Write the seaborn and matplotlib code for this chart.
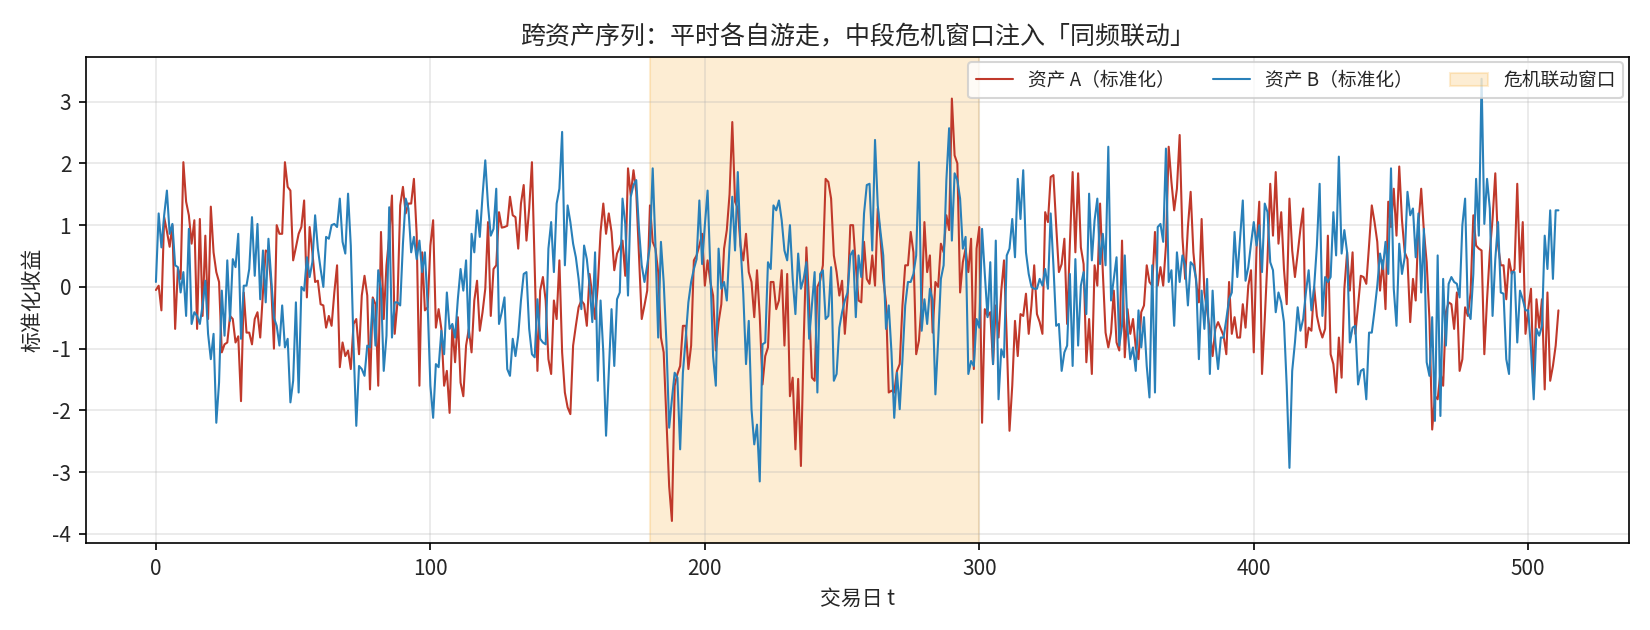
import numpy as np
import pandas as pd
import matplotlib
matplotlib.use("Agg")
import matplotlib.pyplot as plt
import seaborn as sns

# 数据：两条标准化收益序列（t = 0..511）
asset_a = [
    # t 0-41
    -0.05, 0.02, -0.38, 1.13, 0.9, 0.65, 1.0, -0.68, 0.3, 0.13, 2.02, 1.38, 1.16, 0.7, 1.08, -0.68,
    1.1, -0.47, 0.83, -0.52, 1.3, 0.56, 0.24, 0.08, -1.06, -0.93, -0.9, -0.47, -0.52, -0.9, -0.8,
    -1.85, -0.09, -0.74, -0.74, -0.93, -0.52, -0.41, -0.82, -0.09, 0.59, 0.56,
    # t 42-83
    0.02, -1.0, 1.0, 0.86, 0.86, 2.02, 1.62, 1.56, 0.43, 0.64, 0.86, 0.97, 1.4, -0.17, 0.97, 0.56,
    0.08, 0.1, -0.28, -0.3, -0.66, -0.47, -0.63, -0.09, 0.35, -1.3, -0.9, -1.12, -1.03, -1.33, -0.6,
    -0.52, -1.09, -0.14, 0.18, -0.14, -1.66, -0.17, -0.28, -1.6, 0.89, -0.52,
    # t 84-125
    0.35, 0.81, 1.48, -0.76, -0.25, 1.32, 1.62, 1.19, 1.35, 1.35, 1.75, 0.86, -1.6, 0.56, -0.38,
    -0.33, 0.67, 1.08, -0.66, -0.36, -0.68, -1.6, -1.36, -2.04, -0.63, -1.22, -0.49, -1.55, -1.77,
    -0.95, -0.68, -1.06, -0.22, 0.1, -0.71, -0.41, -0.03, 1.05, -0.47, 0.29, 0.35, 1.21,
    # t 126-167
    0.96, 0.97, 0.99, 1.46, 1.16, 1.13, 0.62, 1.35, 1.65, 0.75, 1.27, 2.02, 0.35, -1.36, -0.06,
    0.16, -0.22, -1.17, -1.41, -0.22, -0.52, 0.43, -1.06, -1.71, -1.95, -2.06, -0.95, -0.63, -0.33,
    -0.22, -0.28, -0.63, 0.21, -0.14, -0.52, 0.02, 0.89, 1.35, 0.86, 1.19, 0.89, 0.27,
    # t 168-209
    0.54, 0.64, 0.75, 0.18, 1.92, 1.48, 1.89, 1.54, 0.51, -0.52, -0.3, -0.06, 1.32, 0.73, 0.62,
    0.24, -0.82, -1.06, -2.14, -3.23, -3.79, -1.6, -1.41, -1.28, -0.63, -0.63, -1.33, -0.95, 0.43,
    0.51, 0.67, 0.86, 0.02, 0.43, 0.08, -0.14, -1.03, -0.57, -0.28, 0.62, 0.92, 1.5,
    # t 210-251
    2.67, 1.38, 1.27, 0.67, 0.43, 0.86, 0.24, 0.08, -0.49, 0.27, -0.47, -1.58, -1.12, -0.98, 0.08,
    0.08, -0.36, -0.22, 0.27, -0.95, 0.21, -1.77, -1.47, -2.63, -1.49, -2.9, -0.9, 0.64, -0.28,
    -1.47, -1.52, 0.0, 0.1, 0.35, 1.75, 1.7, 1.43, 0.51, 0.24, -0.14, 0.1, -0.76,
    # t 252-293
    -0.17, 1.0, 1.0, 0.35, -0.22, -0.25, 0.73, 0.13, 0.05, 0.51, 0.02, 1.27, 0.78, 0.13, -0.25,
    -1.71, -1.68, -1.71, -1.36, -1.25, -0.3, 0.35, 0.35, 0.89, 0.56, -1.09, -0.87, -0.25, 1.05,
    0.24, 0.51, -0.74, 0.08, 0.0, 0.7, 0.56, 1.16, 0.92, 3.05, 2.13, 2.0, -0.09,
    # t 294-335
    0.4, 0.62, 0.24, 0.78, -1.33, 0.62, 0.97, -2.2, -0.36, -0.47, -0.41, -1.25, -0.3, -0.82, -0.06,
    0.43, -0.84, -2.33, -1.6, -0.55, -1.12, -0.44, -0.47, -0.11, -0.76, -0.3, 0.35, -0.44, -0.57,
    -0.76, 1.21, 1.05, 1.78, 1.81, 1.0, 0.24, 0.37, 0.78, -0.6, 0.7, 1.86, 0.56,
    # t 336-377
    1.84, 0.64, 0.37, -1.22, -0.52, -1.41, 0.35, 0.02, 1.35, 0.24, -0.74, -0.98, -0.74, -0.06, -0.9,
    -1.03, 0.75, -1.14, -0.36, -0.76, -0.52, -0.98, -1.17, -0.41, -0.3, 0.35, 0.08, 0.02, 0.89,
    0.02, 0.32, 0.02, 0.67, 2.27, 1.7, 1.24, 1.59, 2.46, 0.81, 0.13, 0.97, 1.54,
    # t 378-419
    0.56, 0.08, -0.25, 1.1, -0.09, -0.38, -0.71, -1.12, -0.68, -0.57, -0.68, -0.79, -1.09, 0.08,
    -0.76, -0.49, -0.82, -0.82, -0.28, -0.66, 0.02, 0.27, -1.06, 0.62, 1.38, -1.41, -0.52, 0.45,
    1.67, 0.83, 1.86, 0.7, 1.21, 0.29, -0.28, 1.43, 0.59, 0.16, 0.54, 0.94, 1.27, -0.98,
    # t 420-461
    -0.66, -0.71, 0.0, -0.47, -0.68, -0.82, -0.68, 0.83, -1.09, -1.25, -1.71, -0.82, -1.47, -0.03,
    0.56, -0.06, 0.56, -0.76, -0.3, 0.18, 0.16, 0.05, 0.67, 1.32, 1.05, 0.73, -0.06, 0.43, -0.36,
    1.38, 0.97, 1.59, 0.83, 1.95, 1.08, 0.56, 0.45, -0.57, 0.13, -0.22, 1.02, 1.59,
    # t 462-511
    0.89, 0.4, -0.52, -2.31, -1.77, -1.82, -1.39, -1.6, -0.41, -0.25, -0.28, -0.68, -0.09, -1.36,
    -1.17, -0.33, -0.47, -0.09, 1.16, 0.67, 0.62, 0.59, -1.09, -0.2, 0.56, 1.1, 1.84, 0.67, 0.35,
    0.35, -0.2, 0.45, 0.21, 0.29, 1.67, 0.24, 1.05, -0.76, -0.36, -0.03, -1.6, -0.2, -0.66, -0.2,
    -1.66, -0.09, -1.52, -1.28, -0.95, -0.38,
]

asset_b = [
    # t 0-41
    0.08, 1.19, 0.64, 1.16, 1.56, 0.86, 1.02, 0.35, 0.32, -0.09, 0.24, -0.47, 0.94, -0.6, -0.41,
    -0.47, -0.6, -0.3, 0.1, -0.76, -1.17, -0.76, -2.2, -1.55, -0.06, -0.79, 0.43, -0.55, 0.45, 0.32,
    0.86, -0.84, 0.02, 0.02, 0.29, 1.13, 0.18, 1.02, -0.2, 0.59, -0.25, 0.78,
    # t 42-83
    0.13, -0.5, -0.63, -0.95, -0.3, -0.98, -0.84, -1.87, -1.52, -0.25, -1.71, 0.0, -0.06, 0.48, 0.16,
    0.4, 1.16, 0.62, 0.29, 0.0, 0.81, 0.78, 1.0, 1.02, 0.97, 1.43, 0.73, 0.54, 1.51, 0.67, -0.95,
    -2.25, -1.28, -1.33, -1.44, -0.95, -0.98, -0.2, -0.95, 0.27, -0.03, -1.36,
    # t 84-125
    -0.79, 1.29, -0.82, -0.25, -0.25, -0.3, 0.7, 1.43, 1.27, 0.56, 0.81, 0.45, 0.75, 0.24, 0.56,
    -0.3, -1.6, -2.12, -1.25, -1.3, -0.71, -1.09, -0.09, -0.68, -0.6, -0.82, -0.2, 0.29, -0.06,
    0.43, -0.82, 0.86, 0.56, 1.24, 0.81, 1.48, 2.05, 1.32, 0.83, 0.94, 1.59, -0.6,
    # t 126-167
    -0.41, -0.17, -1.33, -1.44, -0.84, -1.12, -0.79, -0.22, 0.21, 0.24, -0.68, -1.09, -1.14, -0.2,
    -0.84, -0.9, -0.93, 0.62, 1.05, 0.24, 1.35, 1.59, 2.51, 0.35, 1.32, 1.05, 0.7, 0.48, 0.13,
    -0.36, 0.67, 0.45, 0.02, -0.57, 0.56, -1.52, -0.22, -1.06, -2.41, -1.39, -0.36, -1.28,
    # t 168-209
    -0.2, -0.09, 1.43, 1.02, -0.14, 1.46, 1.65, 1.73, 0.94, 0.35, 0.08, 0.35, 0.67, 1.92, 0.67,
    -0.82, 0.73, 0.08, -0.9, -2.28, -1.82, -1.39, -1.47, -2.63, -1.39, -0.84, -0.25, 0.08, 0.29,
    0.45, 1.4, 0.37, 1.0, 1.56, 0.29, -1.12, -1.6, 0.62, -0.03, 0.08, -0.22, 0.67,
    # t 210-251
    1.46, 0.59, 1.86, 0.67, -0.11, -1.25, -0.55, -1.98, -2.55, -2.23, -3.15, -0.93, -0.9, 0.4, 0.29,
    1.32, 1.24, 1.4, 1.08, 0.59, 0.43, 1.0, 0.13, -0.44, 0.54, -0.03, 0.13, 0.4, -0.84, -0.3, 0.24,
    -1.71, 0.21, 0.27, -0.52, -0.47, 0.32, -1.52, -1.41, -0.66, -0.41, -0.22,
    # t 252-293
    -0.09, 0.51, 0.59, -0.49, 0.51, 0.16, 1.19, 1.65, 1.67, 0.59, 2.38, 1.32, 0.89, 0.51, -0.68,
    -0.3, -1.06, -2.12, -1.39, -1.98, -1.17, -0.3, 0.08, 0.08, 0.21, 0.51, 2.02, -0.71, -0.2, -0.6,
    -0.03, -0.22, -1.74, -0.87, 0.13, 0.35, 1.73, 2.57, 0.75, 1.84, 1.73, 1.43,
    # t 294-335
    0.62, 0.81, -1.41, -1.2, -1.28, -0.52, -0.66, 0.94, 0.21, -0.49, 0.4, -1.25, 0.75, -1.82, -1.01,
    -1.14, 0.51, 0.62, 1.1, 0.48, 1.75, 1.1, 1.89, 0.56, 0.21, 0.0, -0.03, -0.03, 0.13, 0.02, 0.29,
    -0.03, 1.19, 0.35, -0.63, -0.6, -1.36, -1.06, -0.95, 0.21, -1.28, 0.45,
    # t 336-377
    -0.95, 0.02, 0.24, -0.44, 1.51, 0.43, 1.08, 1.43, 0.37, 0.86, 0.35, 2.27, -0.22, 0.13, 0.48,
    -0.95, -0.63, 0.51, -0.68, -1.17, -0.98, -1.36, -0.38, -0.98, -0.49, -1.28, -1.79, 0.35, -1.71,
    0.97, 1.02, 0.73, 2.24, 0.08, 0.27, -0.63, 0.56, 0.08, 0.51, 0.35, -0.3, 0.4,
    # t 378-419
    0.35, 0.13, -1.17, -0.06, -0.68, 0.13, -1.41, -0.06, -0.9, -1.33, -0.82, -0.82, -0.52, -0.2,
    -0.09, 0.89, 0.16, 0.78, 1.4, 0.1, 0.32, 0.7, 1.05, 0.67, 1.0, 0.24, 1.35, 1.21, 0.4, 0.27,
    -0.41, -0.09, -0.25, -0.57, -1.6, -2.93, -1.36, -0.9, -0.33, -0.71, -0.52, -0.09,
    # t 420-461
    0.27, -0.38, 0.0, 0.67, 1.67, -0.47, 0.16, 0.08, 0.16, 1.21, 0.51, 2.11, 0.54, 0.92, 0.56, -0.9,
    -0.66, -0.63, -1.58, -1.36, -1.33, -1.82, -0.74, -0.74, -0.38, 0.02, 0.54, 0.29, 0.73, 0.21,
    1.92, -0.03, -0.63, 0.7, 0.21, 0.48, 1.54, 1.16, 1.27, 0.48, 1.19, -0.09,
    # t 462-511
    0.94, -1.22, -1.44, -0.49, -2.17, 0.51, -2.09, 0.13, -0.95, 0.05, 0.16, 0.08, 0.05, -0.17, 1.0,
    1.43, -0.41, -0.52, 0.21, 1.75, 0.83, 3.37, 1.02, 1.75, 1.27, -0.47, 0.45, 1.05, -0.09, -0.11,
    -1.17, -1.41, 0.24, 0.24, -0.9, -0.06, -0.2, -0.38, -0.38, -1.01, -1.82, -0.68, -0.79, -0.63,
    0.83, 0.29, 1.24, 0.13, 1.24, 1.24,
]

crisis_window = (180, 300)
labels = ["资产 A（标准化）", "资产 B（标准化）", "危机联动窗口"]
colors = {"A": "#c0392b", "B": "#2980b9"}

df = pd.DataFrame({"t": np.arange(len(asset_a)), "A": asset_a, "B": asset_b})

#%% 画图
sns.set_theme(style="ticks")
plt.rcParams["font.family"] = ["Noto Sans CJK SC", "DejaVu Sans"]
plt.rcParams["axes.unicode_minus"] = False

fig, ax = plt.subplots(figsize=(11, 4.2), dpi=150)

sns.lineplot(data=df, x="t", y="A", ax=ax, color=colors["A"], linewidth=1.0, label=labels[0])
sns.lineplot(data=df, x="t", y="B", ax=ax, color=colors["B"], linewidth=1.0, label=labels[1])
ax.axvspan(*crisis_window, color="#f5a623", alpha=0.2, label=labels[2], zorder=0)

ax.grid(True, color="#b0b0b0", alpha=0.3, linewidth=0.8)
ax.set_axisbelow(True)
for s in ax.spines.values():
    s.set_color("black")
    s.set_linewidth(0.8)
ax.tick_params(direction="out", length=3.5, width=0.8, color="black", labelsize=10)

ax.set_title("跨资产序列：平时各自游走，中段危机窗口注入「同频联动」", fontsize=12)
ax.set_xlabel("交易日 t", fontsize=10)
ax.set_ylabel("标准化收益", fontsize=10)
ax.legend(loc="upper right", ncol=3, fontsize=9, frameon=True, borderaxespad=0.3)

fig.subplots_adjust(left=0.052, right=0.987, top=0.91, bottom=0.138)
fig.savefig("out.png", dpi=150)
